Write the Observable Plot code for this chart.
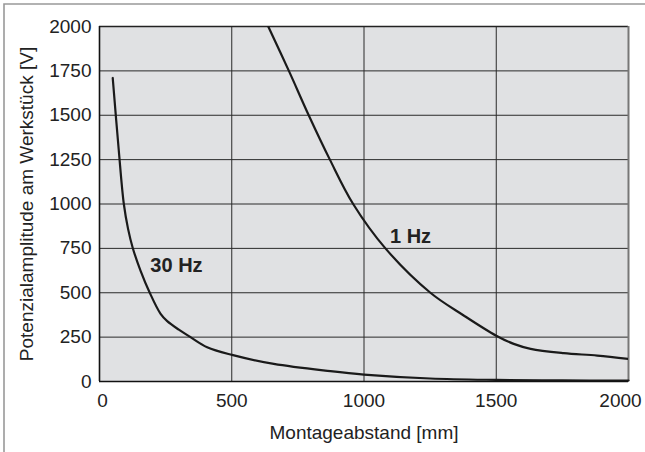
<!DOCTYPE html>
<html>
<head>
<meta charset="utf-8">
<script src="https://cdn.jsdelivr.net/npm/d3@7"></script>
<script src="https://cdn.jsdelivr.net/npm/@observablehq/plot@0.6"></script>
<style>
  html, body { margin: 0; padding: 0; background: #ffffff; }
  #chart { width: 645px; height: 452px; position: relative; }
</style>
</head>
<body>
<div id="chart"></div>
<script>
// ---- data ----
const hz30X = [50, 73, 92, 108, 126, 155, 190, 231, 256, 300, 344, 407, 501, 659, 873, 1000, 1250, 1500, 1750, 2000];
const hz30Y = [1710, 1300, 1000, 860, 751, 625, 500, 381, 340, 292, 250, 193, 150, 99, 58, 39, 17, 9, 6, 5];
const hz1X = [638, 716, 791, 871, 959, 1081, 1251, 1377, 1500, 1566, 1630, 1755, 1882, 2000];
const hz1Y = [2000, 1750, 1500, 1250, 1000, 750, 500, 372, 258, 212, 184, 160, 146, 127];
const curveLabels = ["30 Hz", "1 Hz"];
const labelX = [291, 1176];
const labelY = [654, 817];
const xTicks = [0, 500, 1000, 1500, 2000];
const yTicks = [0, 250, 500, 750, 1000, 1250, 1500, 1750, 2000];
const xTitle = "Montageabstand [mm]";
const yTitle = "Potenzialamplitude am Werkstück [V]";

const series30 = hz30X.map((x, i) => ({x, y: hz30Y[i]}));
const series1 = hz1X.map((x, i) => ({x, y: hz1Y[i]}));
const labels = curveLabels.map((t, i) => ({t, x: labelX[i], y: labelY[i]}));

const FONT = "'Liberation Sans', Arial, Helvetica, sans-serif";
const xFirst = xTicks[0];
const xLast = xTicks[xTicks.length - 1];
const xMid = xTicks.slice(1, -1);

const axisOpts = {tickSize: 0, tickPadding: 12, label: null, tickFormat: d => String(d), fontSize: 19};

const chart = Plot.plot({
  width: 645,
  height: 452,
  marginLeft: 99,
  marginRight: 17,
  marginTop: 26,
  marginBottom: 71,
  style: {fontFamily: FONT, fontSize: "19px", color: "#222", background: "transparent", overflow: "visible"},
  x: {domain: [0, 2000]},
  y: {domain: [0, 2000]},
  marks: [
    Plot.frame({fill: "#e0e1e3", stroke: null}),
    Plot.ruleY(yTicks.filter(d => d > 0 && d < 2000), {stroke: "#2a2a2a", strokeWidth: 1}),
    Plot.ruleX(xTicks.filter(d => d > 0 && d < 2000), {stroke: "#2a2a2a", strokeWidth: 1}),
    Plot.ruleY([2000], {stroke: "#222", strokeWidth: 1.3}),
    Plot.ruleX([2000], {stroke: "#777", strokeWidth: 2}),
    Plot.line(series30, {x: "x", y: "y", curve: "catmull-rom", stroke: "#1a1a1a", strokeWidth: 2.2}),
    Plot.line(series1, {x: "x", y: "y", curve: "catmull-rom", stroke: "#1a1a1a", strokeWidth: 2.2, clip: true}),
    Plot.ruleX([0], {stroke: "#111", strokeWidth: 1.6}),
    Plot.ruleY([0], {stroke: "#111", strokeWidth: 1.6}),
    Plot.text(labels, {x: "x", y: "y", text: "t", fontWeight: "bold", fontSize: 20, fill: "#222", textAnchor: "middle"}),
    Plot.axisX(xMid, axisOpts),
    Plot.axisX([xFirst], {...axisOpts, dx: 3}),
    Plot.axisX([xLast], {...axisOpts, dx: -8}),
    Plot.axisY({ticks: yTicks, tickSize: 0, tickPadding: 8, label: null, tickFormat: d => String(d), fontSize: 19}),
    Plot.text([xTitle], {frameAnchor: "bottom", dy: 57, fontSize: 19, fill: "#222", textAnchor: "middle"}),
    Plot.text([yTitle], {frameAnchor: "left", dx: -73, rotate: -90, fontSize: 19, fill: "#222", textAnchor: "middle"})
  ]
});

d3.select(chart).append("path")
  .attr("d", "M4,452 V4 H645")
  .attr("fill", "none")
  .attr("stroke", "#999")
  .attr("stroke-width", 1.6);

document.getElementById("chart").appendChild(chart);
</script>
</body>
</html>
